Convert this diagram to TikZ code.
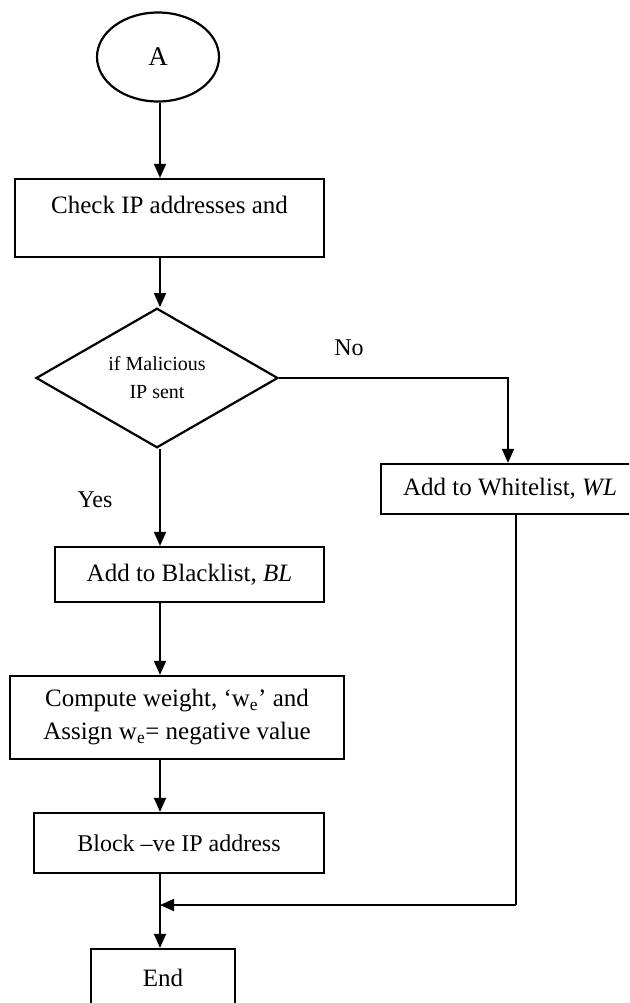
\documentclass[tikz,border=0pt]{standalone}
\usepackage{fontspec}
\setmainfont{Liberation Serif}
\usetikzlibrary{shapes.geometric,arrows.meta,calc}
\begin{document}
\begin{tikzpicture}[x=1pt,y=-1pt,
  box/.style={draw,line width=2.2pt,rectangle,inner sep=0pt,align=center,font=\fontsize{25}{33}\selectfont},
  arr/.style={line width=1.6pt,-{Triangle[length=14pt,width=12pt]}},
  conn/.style={line width=1.6pt},
  lbl/.style={font=\fontsize{24}{28}\selectfont,inner sep=0pt}]
\useasboundingbox (0,0) rectangle (629,1003);
\clip (0,0) rectangle (629,1003);
\coordinate (spine) at (160,0);
\node[draw,ellipse,line width=2.2pt,minimum width=122pt,minimum height=89pt,inner sep=0pt,font=\fontsize{27}{30}\selectfont] (A) at (158,57) {A};
\node[box,minimum width=309pt,minimum height=78pt] (check) at (169.5,218) {};
\node[font=\fontsize{25}{30}\selectfont,inner sep=0pt] (checktxt) at (169.5,205) {Check IP addresses and};
\node[draw,diamond,line width=2.2pt,minimum width=242pt,minimum height=127pt,inner sep=0pt,align=center,font=\fontsize{20}{28}\selectfont] (dec) at (157,378) {if Malicious\\IP sent};
\node[box,minimum width=258pt,minimum height=50pt] (wl) at (510,489) {Add to Whitelist, \textit{WL}};
\node[box,minimum width=269pt,minimum height=55pt] (bl) at (189.5,574.5) {Add to Blacklist, \textit{BL}};
\node[box,minimum width=334pt,minimum height=83pt] (comp) at (177,717.5) {Compute weight, ‘w\textsubscript{e}’ and\\Assign w\textsubscript{e}= negative value};
\node[box,minimum width=290pt,minimum height=60pt,font=\fontsize{24}{30}\selectfont] (blk) at (179,843) {Block –ve IP address};
\node[box,minimum width=144pt,minimum height=58pt] (endn) at (163,978) {End};
\node[lbl] (no) at (349,348) {No};
\node[lbl] (yes) at (95,500) {Yes};
\coordinate (wlcol) at (508,0);
\coordinate (retcol) at (516,0);
\coordinate (join) at (160,905);
\draw[arr] (A.south -| spine) -- (check.north -| spine);
\draw[arr] (check.south -| spine) -- (dec.north -| spine);
\draw[arr] (dec.east) -- (dec.east -| wlcol) -- (wl.north -| wlcol);
\draw[arr] (dec.south -| spine) -- (bl.north -| spine);
\draw[arr] (bl.south -| spine) -- (comp.north -| spine);
\draw[arr] (comp.south -| spine) -- (blk.north -| spine);
\draw[arr] (blk.south -| spine) -- (endn.north -| spine);
\draw[conn] (wl.south -| retcol) -- (join -| retcol);
\draw[arr] (join -| retcol) -- (join);
\end{tikzpicture}
\end{document}
